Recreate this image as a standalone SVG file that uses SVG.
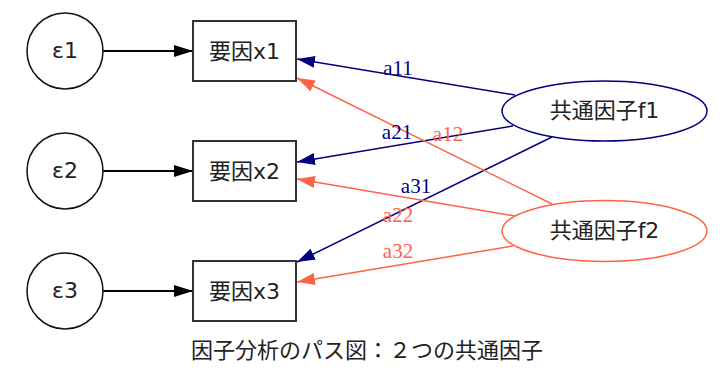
<svg xmlns="http://www.w3.org/2000/svg" width="725" height="377" viewBox="0 0 725 377">
<style>
.sans{font-family:"DejaVu Sans","Noto Sans CJK JP",sans-serif;font-size:22px;fill:#222;text-anchor:middle}
.lbl{font-family:"Liberation Serif",serif;font-size:21px;text-anchor:middle}
.blk{stroke:#000;stroke-width:2;fill:none}
.nv{stroke:#000080;stroke-width:1.5;fill:none}
.tm{stroke:#FF6347;stroke-width:1.5;fill:none}
.box{fill:#fff;stroke:#333;stroke-width:2}
.circ{fill:#fff;stroke:#111;stroke-width:1.5}
</style>
<defs>
<marker id="ab" markerUnits="userSpaceOnUse" markerWidth="20" markerHeight="14" refX="19" refY="6" orient="auto"><path d="M0,0 L19,6 L0,12 z" fill="#000"/></marker>
<marker id="an" markerUnits="userSpaceOnUse" markerWidth="20" markerHeight="14" refX="18" refY="6" orient="auto"><path d="M0,0 L18,6 L0,12 z" fill="#000080"/></marker>
<marker id="at" markerUnits="userSpaceOnUse" markerWidth="20" markerHeight="14" refX="18" refY="6" orient="auto"><path d="M0,0 L18,6 L0,12 z" fill="#FF6347"/></marker>
</defs>
<rect width="725" height="377" fill="#fff"/>
<g id="connectors">
<line class="blk" x1="103" y1="51" x2="193" y2="51" marker-end="url(#ab)"/>
<line class="blk" x1="103" y1="171" x2="193" y2="171" marker-end="url(#ab)"/>
<line class="blk" x1="103" y1="291" x2="193" y2="291" marker-end="url(#ab)"/>
<line class="nv" x1="515" y1="95" x2="297" y2="59" marker-end="url(#an)"/>
<line class="nv" x1="513" y1="126" x2="297" y2="162" marker-end="url(#an)"/>
<line class="nv" x1="552" y1="137" x2="297" y2="262" marker-end="url(#an)"/>
<line class="tm" x1="552" y1="204" x2="297" y2="78" marker-end="url(#at)"/>
<line class="tm" x1="515" y1="216" x2="297" y2="179" marker-end="url(#at)"/>
<line class="tm" x1="513" y1="246" x2="297" y2="282" marker-end="url(#at)"/>
<text class="lbl" x="398" y="75" fill="#000080">a11</text>
<text class="lbl" x="397" y="139" fill="#000080">a21</text>
<text class="lbl" x="448" y="141" fill="#FF6347">a12</text>
<text class="lbl" x="416" y="193" fill="#000080">a31</text>
<text class="lbl" x="398" y="222" fill="#FF6347">a22</text>
<text class="lbl" x="398" y="258" fill="#FF6347">a32</text>
</g>
<g id="e1"><circle class="circ" cx="65" cy="51" r="38"/><text class="sans" x="65" y="58">ε1</text></g>
<g id="e2"><circle class="circ" cx="65" cy="171" r="38"/><text class="sans" x="65" y="178">ε2</text></g>
<g id="e3"><circle class="circ" cx="65" cy="291" r="38"/><text class="sans" x="65" y="298">ε3</text></g>
<g id="x1"><rect class="box" x="193" y="21" width="103" height="60"/><text class="sans" x="244.5" y="58.5">要因x1</text></g>
<g id="x2"><rect class="box" x="193" y="141" width="103" height="60"/><text class="sans" x="244.5" y="178.5">要因x2</text></g>
<g id="x3"><rect class="box" x="193" y="261" width="103" height="60"/><text class="sans" x="244.5" y="298.5">要因x3</text></g>
<g id="f1"><ellipse cx="604.5" cy="111" rx="102.5" ry="30" fill="#fff" stroke="#000080" stroke-width="1.5"/><text class="sans" x="604.5" y="118">共通因子f1</text></g>
<g id="f2"><ellipse cx="604.5" cy="231" rx="102.5" ry="30.5" fill="#fff" stroke="#FF6347" stroke-width="1.5"/><text class="sans" x="604.5" y="238">共通因子f2</text></g>
<text class="sans" x="367" y="358">因子分析のパス図：２つの共通因子</text>
</svg>
